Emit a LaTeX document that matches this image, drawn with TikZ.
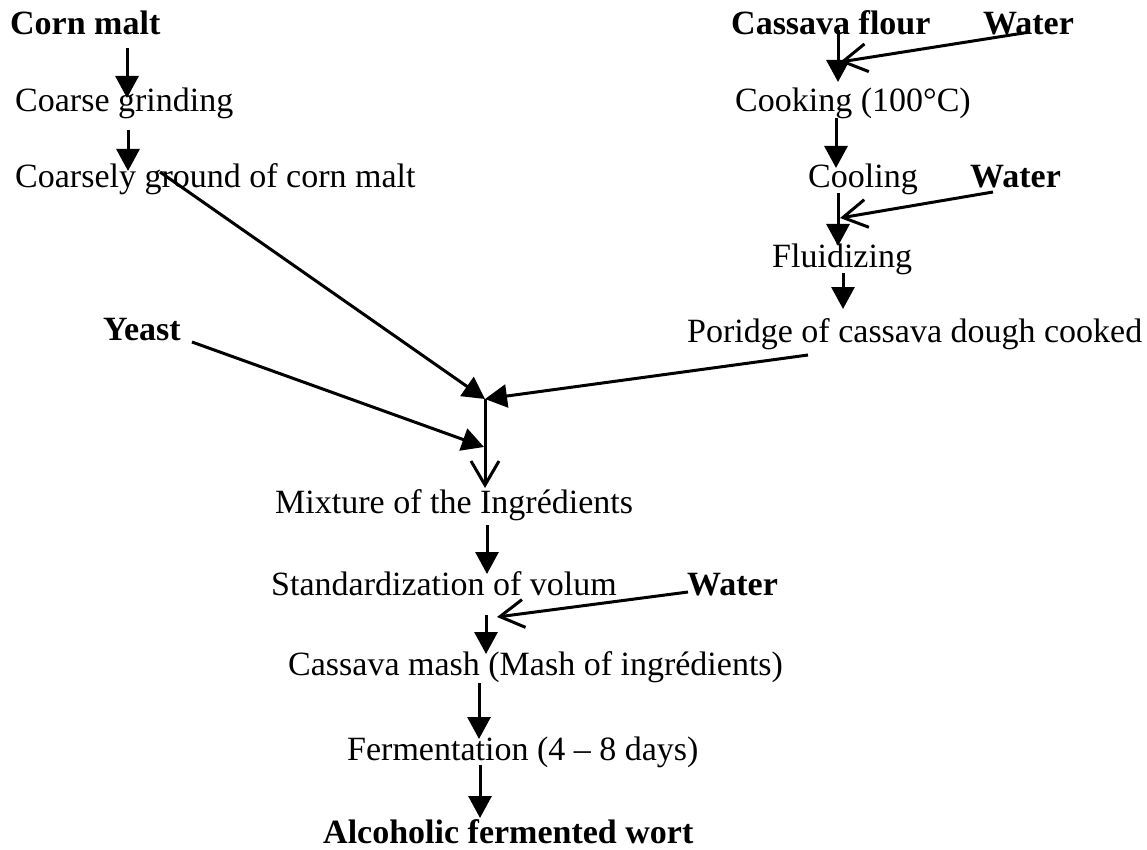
\documentclass[tikz,border=0pt]{standalone}
\usepackage{fontspec}
\setmainfont{Liberation Serif}
\usetikzlibrary{arrows.meta}
\begin{document}
\begin{tikzpicture}[x=1pt,y=-1pt,
  lbl/.style={anchor=base west,inner sep=0pt,font=\fontsize{34}{40}\selectfont},
  blbl/.style={lbl,font=\fontsize{34}{40}\selectfont\bfseries},
  fa/.style={line width=3pt,-{Triangle[length=22pt,width=23pt]}},
  oa/.style={line width=3pt,-{Straight Barb[length=24pt,width=28pt,line width=3pt]}}]
\useasboundingbox (0,0) rectangle (1147,850);
% left branch
\node[blbl] (corn) at (10,35) {Corn malt};
\node[lbl] (grind) at (15,112) {Coarse grinding};
\node[lbl] (ground) at (15,188) {Coarsely ground of corn malt};
% right branch
\node[blbl] (cflour) at (731,35) {Cassava flour};
\node[blbl] (water1) at (983,35) {Water};
\node[lbl] (cook) at (735,112) {Cooking (100°C)};
\node[lbl] (cool) at (808,188) {Cooling};
\node[blbl] (water2) at (970,188) {Water};
\node[lbl] (fluid) at (772,267) {Fluidizing};
\node[lbl] (porridge) at (687,342) {Poridge of cassava dough cooked};
% centre
\node[blbl] (yeast) at (103,340) {Yeast};
\node[lbl] (mix) at (275,513) {Mixture of the Ingrédients};
\node[lbl] (std) at (271,595) {Standardization of volum};
\node[blbl] (water3) at (687,595) {Water};
\node[lbl] (mash) at (288,675) {Cassava mash (Mash of ingrédients)};
\node[lbl] (ferm) at (347,760) {Fermentation (4 -- 8 days)};
\node[blbl] (wort) at (323,843) {Alcoholic fermented wort};
% connector end points
\coordinate (a1s) at (127,48);   \coordinate (a1e) at (127,98);
\coordinate (a2s) at (128,130);  \coordinate (a2e) at (128,171);
\coordinate (c1s) at (838,30);   \coordinate (c1e) at (838,82);
\coordinate (w1s) at (1030,32);  \coordinate (w1e) at (840,62);
\coordinate (c2s) at (836,118);  \coordinate (c2e) at (836,168);
\coordinate (c3s) at (838,193);  \coordinate (c3e) at (838,246);
\coordinate (w2s) at (993,192);  \coordinate (w2e) at (840,218);
\coordinate (c4s) at (843,273);  \coordinate (c4e) at (843,309);
\coordinate (gs) at (160,172);
\coordinate (j1) at (485,399);
\coordinate (ps) at (808,355);
\coordinate (ys) at (192,342);
\coordinate (y1) at (484,447);
\coordinate (mixin) at (485,488);
\coordinate (m1s) at (487,525);  \coordinate (m1e) at (487,574);
\coordinate (m2s) at (486,615);  \coordinate (m2e) at (486,654);
\coordinate (w3s) at (688,592);  \coordinate (w3e) at (497,617);
\coordinate (m3s) at (479,683);  \coordinate (m3e) at (479,739);
\coordinate (m4s) at (480,765);  \coordinate (m4e) at (480,818);
% arrows
\draw[fa] (a1s) -- (a1e);
\draw[fa] (a2s) -- (a2e);
\draw[fa] (c1s) -- (c1e);
\draw[oa] (w1s) -- (w1e);
\draw[fa] (c2s) -- (c2e);
\draw[fa] (c3s) -- (c3e);
\draw[oa] (w2s) -- (w2e);
\draw[fa] (c4s) -- (c4e);
\draw[fa] (gs) -- (j1);
\draw[fa] (ps) -- (j1);
\draw[fa] (ys) -- (y1);
\draw[oa] (j1) -- (mixin);
\draw[fa] (m1s) -- (m1e);
\draw[fa] (m2s) -- (m2e);
\draw[oa] (w3s) -- (w3e);
\draw[fa] (m3s) -- (m3e);
\draw[fa] (m4s) -- (m4e);
\end{tikzpicture}
\end{document}
